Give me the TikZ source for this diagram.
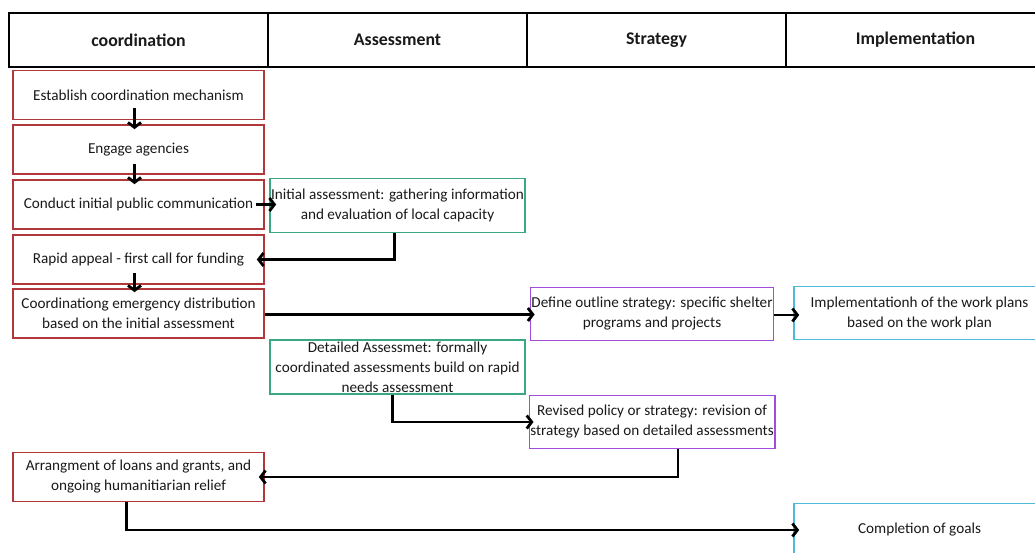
\documentclass[tikz,border=0pt]{standalone}
\usepackage{fontspec}
\setmainfont{Carlito}
\usetikzlibrary{arrows.meta}
\definecolor{coordC}{RGB}{176,56,58}
\definecolor{assessC}{RGB}{58,168,128}
\definecolor{stratC}{RGB}{160,78,218}
\definecolor{implC}{RGB}{80,186,216}
\begin{document}
\begin{tikzpicture}[x=1pt,y=-1pt,headS/.style={draw=black,line width=1.6pt,minimum width=259pt,minimum height=54pt,inner sep=0pt,font=\fontsize{17.8}{20}\selectfont\bfseries,text=black!90},boxS/.style={draw,line width=1.6pt,align=center,inner sep=1pt,font=\fontsize{15.2}{20}\selectfont,text=black!90},coordS/.style={boxS,draw=coordC,minimum width=251pt,minimum height=49pt},assessS/.style={boxS,draw=assessC,minimum width=255pt,minimum height=54pt},stratS/.style={boxS,draw=stratC,minimum width=242pt,minimum height=53pt},implS/.style={boxS,draw=implC,minimum width=251pt,minimum height=53pt},flowA/.style={line width=2.8pt,-{Straight Barb[length=5pt,width=13pt]}}]
\useasboundingbox (0,0) rectangle (1035,553);
\clip (0,0) rectangle (1035,553);

\node[headS] (h1) at (138.5,40) {coordination};
\node[headS] (h2) at (397.5,40) {Assessment};
\node[headS] (h3) at (656.5,40) {Strategy};
\node[headS] (h4) at (915.5,40) {Implementation};

\node[coordS] (r1) at (138.5,95) {Establish coordination mechanism};
\node[coordS] (r2) at (138.5,149.5) {Engage agencies};
\node[coordS] (r3) at (138.5,204.5) {Conduct initial public communication};
\node[coordS] (r4) at (138.5,259.5) {Rapid appeal - first call for funding};
\node[coordS] (r5) at (138.5,313.5) {Coordinationg emergency distribution\\based on the initial assessment};
\node[coordS] (r6) at (138.5,477) {Arrangment of loans and grants, and\\ongoing humanitiarian relief};

\node[assessS] (g1) at (397.5,205.5) {Initial assessment: gathering information\\and evaluation of local capacity};
\node[assessS] (g2) at (397.5,367) {Detailed Assessmet: formally\\coordinated assessments build on rapid\\needs assessment};

\node[stratS] (p1) at (652,314) {Define outline strategy: specific shelter\\programs and projects};
\node[stratS] (p2) at (652,422) {Revised policy or strategy: revision of\\strategy based on detailed assessments};

\node[implS] (c1) at (919.5,313) {Implementationh of the work plans\\based on the work plan};
\node[implS] (c2) at (919.5,530) {Completion of goals};

\draw[flowA] ([xshift=-4pt,yshift=12pt]r1.south) -- ([xshift=-4pt,yshift=-5pt]r2.north);
\draw[flowA] ([xshift=-4pt,yshift=11pt]r2.south) -- ([xshift=-4pt,yshift=-5pt]r3.north);
\draw[flowA] ([xshift=-9pt]r3.east) -- ([xshift=7pt]r3.east -| g1.west);
\draw[flowA] ([xshift=-3pt]g1.south) |- ([xshift=-8pt]r4.east);
\draw[flowA] ([xshift=-4pt,yshift=12pt]r4.south) -- ([xshift=-4pt,yshift=-4pt]r5.north);
\draw[flowA] ([yshift=-1pt]r5.east) -- ([xshift=5pt,yshift=-1pt]r5.east -| p1.west);
\draw[flowA] ([yshift=-1pt]p1.east) -- ([xshift=6pt,yshift=-1pt]p1.east -| c1.west);
\draw[flowA] ([xshift=-5pt]g2.south) |- ([xshift=5pt]p2.west);
\draw[flowA] ([xshift=26pt]p2.south) |- ([xshift=-6pt]r6.east);
\draw[flowA] ([xshift=-12pt]r6.south) |- ([xshift=6pt]c2.west);
\end{tikzpicture}
\end{document}
